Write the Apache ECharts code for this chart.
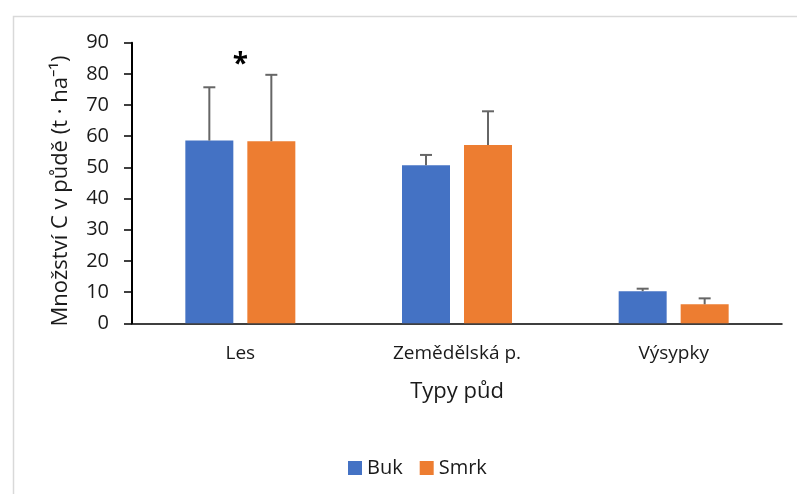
<!DOCTYPE html>
<html>
<head>
<meta charset="utf-8">
<script src="https://cdn.jsdelivr.net/npm/echarts@6/dist/echarts.min.js"></script>
<style>
  html, body { margin: 0; padding: 0; background: #fff; }
  #chart { width: 797px; height: 494px; }
</style>
</head>
<body>
<div id="chart"></div>
<script>
// Soil carbon stock by soil type, beech vs spruce
const categories = ['Les', 'Zemědělská p.', 'Výsypky'];
const seriesNames = ['Buk', 'Smrk'];
const bukValues = [58.6, 50.7, 10.3];
const smrkValues = [58.4, 57.2, 6.1];
const bukErrors = [17.1, 3.3, 0.8];
const smrkErrors = [21.3, 10.8, 1.9];
const significance = ['*', '', ''];
const yTicks = [0, 10, 20, 30, 40, 50, 60, 70, 80, 90];
const yTitle = 'Množství C v půdě (t · ha⁻¹)';
const xTitle = 'Typy půd';

const FONT = '"Open Sans", "Noto Sans", sans-serif';
const TEXT = '#1a1a1a';
const BAR_W = 48;
const BAR_GAP_PX = 14;
const HALF_STEP = (BAR_W + BAR_GAP_PX) / 2;

const chart = echarts.init(document.getElementById('chart'), null, { renderer: 'canvas' });

function errorSeries(values, errors, side) {
  return {
    type: 'custom',
    silent: true,
    z: 5,
    data: values.map((v, i) => [i, v, v + errors[i]]),
    renderItem: function (params, api) {
      const base = api.coord([api.value(0), api.value(1)]);
      const top = api.coord([api.value(0), api.value(2)]);
      const x = base[0] + side * HALF_STEP;
      const style = { stroke: '#666666', lineWidth: 2 };
      return {
        type: 'group',
        children: [
          { type: 'line', shape: { x1: x, y1: base[1], x2: x, y2: top[1] }, style: style },
          { type: 'line', shape: { x1: x - 6, y1: top[1], x2: x + 6, y2: top[1] }, style: style }
        ]
      };
    }
  };
}

const maxTops = categories.map((_, i) => Math.max(bukValues[i] + bukErrors[i], smrkValues[i] + smrkErrors[i]));

chart.setOption({
  animation: false,
  textStyle: { fontFamily: FONT },
  graphic: [
    {
      type: 'rect',
      left: 11, top: 14,
      shape: { width: 800, height: 500 },
      style: { fill: 'none', stroke: '#d9d9d9', lineWidth: 1.5 },
      silent: true,
      z: -10
    },
    {
      type: 'text',
      x: 61, y: 191,
      rotation: Math.PI / 2,
      style: {
        text: yTitle,
        align: 'center', verticalAlign: 'middle',
        font: '22px ' + FONT,
        fill: TEXT
      },
      silent: true
    }
  ],
  legend: {
    data: seriesNames,
    top: 453,
    left: 343,
    itemWidth: 14,
    itemHeight: 14,
    itemGap: 17,
    icon: 'rect',
    textStyle: { fontFamily: FONT, fontSize: 20, color: TEXT }
  },
  grid: { left: 132, right: 15, top: 42.7, bottom: 170.7 },
  xAxis: {
    type: 'category',
    data: categories,
    name: xTitle,
    nameLocation: 'middle',
    nameGap: 57,
    nameTextStyle: { fontFamily: FONT, fontSize: 22, color: TEXT },
    axisLine: { lineStyle: { color: '#000', width: 1.5 } },
    axisTick: { show: false },
    axisLabel: { fontFamily: FONT, fontSize: 19, color: TEXT, margin: 21 }
  },
  yAxis: {
    type: 'value',
    min: yTicks[0],
    max: yTicks[yTicks.length - 1],
    interval: 10,
    axisLine: { show: true, lineStyle: { color: '#000', width: 2 } },
    axisTick: { show: true, length: 8, lineStyle: { color: '#000', width: 1.5 } },
    axisLabel: { fontFamily: FONT, fontSize: 20, color: TEXT, margin: 23 },
    splitLine: { show: false }
  },
  series: [
    {
      name: seriesNames[0], type: 'bar', data: bukValues,
      barWidth: BAR_W, barGap: (BAR_GAP_PX / BAR_W * 100) + '%',
      itemStyle: { color: '#4472C4' }
    },
    {
      name: seriesNames[1], type: 'bar', data: smrkValues,
      barWidth: BAR_W,
      itemStyle: { color: '#ED7D31' }
    },
    errorSeries(bukValues, bukErrors, -1),
    errorSeries(smrkValues, smrkErrors, 1),
    {
      type: 'custom',
      silent: true,
      z: 6,
      data: categories.map((_, i) => [i, maxTops[i]]),
      renderItem: function (params, api) {
        const i = api.value(0);
        const p = api.coord([i, api.value(1)]);
        return {
          type: 'text',
          style: {
            text: significance[i],
            x: p[0], y: p[1] - 10,
            align: 'center', verticalAlign: 'middle',
            font: 'bold 28px ' + FONT,
            fill: '#000'
          }
        };
      }
    }
  ]
});
</script>
</body>
</html>
